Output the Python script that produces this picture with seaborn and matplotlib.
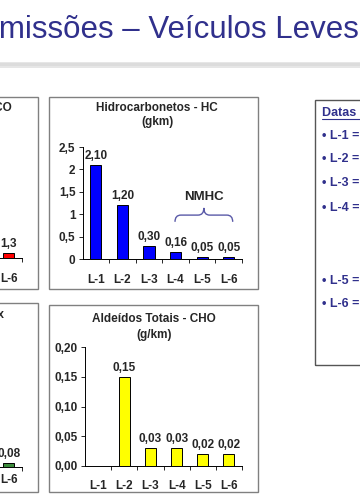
import matplotlib
matplotlib.use("Agg")
import numpy as np
import pandas as pd
import matplotlib.pyplot as plt
import seaborn as sns
from matplotlib.patches import Rectangle, PathPatch
from matplotlib.path import Path
from matplotlib.ticker import FuncFormatter

# dados (limites PROCONVE por fase)
fases = ["L-1", "L-2", "L-3", "L-4", "L-5", "L-6"]
co = [24, 12, 2.0, 2.0, 2.0, 1.3]                      # so L-6 aparece no recorte
hc = [2.10, 1.20, 0.30, 0.16, 0.05, 0.05]
nox = [2.0, 1.4, 0.6, 0.25, 0.12, 0.08]               # so L-6 aparece no recorte
cho = [np.nan, 0.15, 0.03, 0.03, 0.02, 0.02]

sns.set_style("ticks")
plt.rcParams['font.family'] = ['Liberation Sans', 'DejaVu Sans']

W, H = 360, 504
fig = plt.figure(figsize=(3.6, 5.04), dpi=100)
fig.patch.set_facecolor("white")

azul = "#30308c"
fs = 8.5


def fx(x):
    return x / W


def fy(y):
    return 1 - y / H


def add_ax(x0, y0, x1, y1):
    return fig.add_axes([x0 / W, 1 - y1 / H, (x1 - x0) / W, (y1 - y0) / H])


def caixa(x0, y0, x1, y1, cor="#808080", lw=1.0):
    fig.add_artist(Rectangle((fx(x0), fy(y1)), (x1 - x0) / W, (y1 - y0) / H,
                             transform=fig.transFigure, fill=False,
                             edgecolor=cor, linewidth=lw))


def virg(fmt):
    return lambda v: format(v, fmt).replace(".", ",")


def painel(ax, valores, cor, ymax, yticks, yfmt, lfmt, pad_x, ylabels=True):
    df = pd.DataFrame({"fase": fases, "valor": valores}).dropna()
    sns.barplot(data=df, x="fase", y="valor", order=fases, color=cor,
                saturation=1, width=0.42, edgecolor="black", linewidth=0.7, ax=ax)
    ax.bar_label(ax.containers[0], labels=[lfmt(v) for v in df["valor"]],
                 padding=2, fontsize=fs, fontweight="bold")
    ax.set_xlim(-0.5, 5.5)
    ax.set_ylim(0, ymax)
    ax.set_yticks(yticks)
    ax.yaxis.set_major_formatter(FuncFormatter(lambda v, p: yfmt(v)))
    ax.set_xlabel("")
    ax.set_ylabel("")
    ax.set_xticks(np.arange(0.5, 6, 1), minor=True)
    ax.tick_params(axis="x", which="major", length=0, pad=pad_x, labelsize=fs)
    ax.tick_params(axis="x", which="minor", length=3, width=0.7)
    ax.tick_params(axis="y", length=3, width=0.7, pad=2, labelsize=fs,
                   labelleft=ylabels)
    for t in ax.get_xticklabels() + ax.get_yticklabels():
        t.set_fontweight("bold")
    sns.despine(ax=ax)
    for s in ("left", "bottom"):
        ax.spines[s].set_linewidth(0.7)
        ax.spines[s].set_color("black")
    ax.patch.set_alpha(0)


# titulo do slide
fig.text(fx(-22), fy(38), "Emissões – Veículos Leves", fontsize=22.5,
         color=azul, ha="left", va="baseline")
fig.add_artist(Rectangle((0, fy(68)), 1, 6 / H, transform=fig.transFigure,
                         color="#e6e6e6", lw=0))
fig.add_artist(Rectangle((0, fy(66)), 1, 3 / H, transform=fig.transFigure,
                         color="#dcdcdc", lw=0))

# caixas dos graficos
caixa(-200, 97, 38, 289)
caixa(49, 97, 258, 289)
caixa(-200, 303, 38, 492)
caixa(49, 305, 258, 492)
caixa(315, 100, 420, 365, cor="#555555")

# CO (cortado)
ax_co = add_ax(-137, 147, 22, 258)
painel(ax_co, co, "#ff0000", 30, [0, 10, 20, 30], virg("g"), virg("g"), 11,
       ylabels=False)
fig.text(fx(12), fy(108), "Monóxido de Carbono - CO", ha="right", va="center",
         fontsize=fs, fontweight="bold")

# HC
ax_hc = add_ax(82.5, 147, 242, 259)
painel(ax_hc, hc, "#0000ff", 2.5, [0, 0.5, 1, 1.5, 2, 2.5], virg("g"),
       virg(".2f"), 11)
fig.text(fx(157), fy(108), "Hidrocarbonetos - HC", ha="center", va="center",
         fontsize=fs, fontweight="bold")
fig.text(fx(157), fy(122), "(gkm)", ha="center", va="center",
         fontsize=fs, fontweight="bold")

# chave NMHC
x0, x1, xm = 2.98, 5.15, (2.98 + 5.15) / 2
ye, ya, yt, dx = 0.83, 0.98, 1.14, 0.22
verts = [(x0, ye), (x0, ya), (x0 + dx, ya), (xm - dx, ya), (xm, ya), (xm, yt),
         (xm, ya), (xm + dx, ya), (x1 - dx, ya), (x1, ya), (x1, ye)]
codes = [Path.MOVETO, Path.CURVE3, Path.CURVE3, Path.LINETO, Path.CURVE3,
         Path.CURVE3, Path.CURVE3, Path.CURVE3, Path.LINETO, Path.CURVE3,
         Path.CURVE3]
ax_hc.add_patch(PathPatch(Path(verts, codes), fill=False, edgecolor="#5a5aa8",
                          linewidth=1, clip_on=False))
ax_hc.text(xm, 1.39, "NMHC", ha="center", va="center", fontsize=9.5,
           fontweight="bold")

# NOx (cortado)
ax_nox = add_ax(-137, 347, 22, 467)
painel(ax_nox, nox, "#3c8c3c", 2.5, [0, 0.5, 1, 1.5, 2, 2.5], virg("g"),
       virg("g"), 5, ylabels=False)
fig.text(fx(4), fy(314), "Óxidos de Nitrogênio - NOx", ha="right", va="center",
         fontsize=fs, fontweight="bold")

# CHO
ax_cho = add_ax(85, 347, 242, 466)
painel(ax_cho, cho, "#ffff00", 0.20, [0, 0.05, 0.10, 0.15, 0.20], virg(".2f"),
       virg(".2f"), 10)
fig.text(fx(154), fy(319), "Aldeídos Totais - CHO", ha="center", va="center",
         fontsize=fs, fontweight="bold")
fig.text(fx(154), fy(335), "(g/km)", ha="center", va="center",
         fontsize=fs, fontweight="bold")

# quadro das datas
fig.text(fx(322), fy(113), "Datas de vigência", ha="left", va="center",
         fontsize=9, fontweight="bold", color=azul)
fig.add_artist(plt.Line2D([fx(322), fx(420)], [fy(119), fy(119)],
                          transform=fig.transFigure, color=azul, lw=0.8))
ys = [136, 159, 183, 208, 281, 304]
for f, y in zip(fases, ys):
    fig.text(fx(322), fy(y), "• " + f + " =", ha="left", va="center",
             fontsize=9, fontweight="bold", color=azul)

fig.savefig("out.png", dpi=100, facecolor="white")
